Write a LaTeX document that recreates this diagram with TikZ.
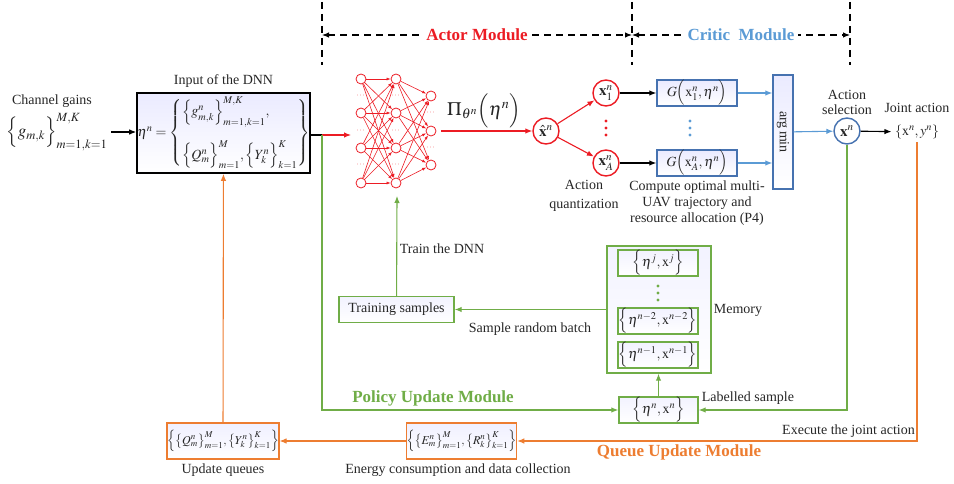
\documentclass[tikz,border=0pt]{standalone}
\usepackage{amsmath}
\usepackage{mathptmx}
\usepackage{fontspec}
\setmainfont{Liberation Serif}
\usepackage{graphicx}
\usepackage{tikz}
\usetikzlibrary{arrows.meta}
\usetikzlibrary{positioning}
\tikzset{>={Latex[length=7pt,width=5.5pt]}}
\definecolor{actred}{RGB}{236,28,36}
\definecolor{critblue}{RGB}{91,155,213}
\definecolor{edgeblue}{RGB}{70,114,176}
\definecolor{polgreen}{RGB}{112,173,71}
\definecolor{queorange}{RGB}{237,125,49}
\definecolor{txt}{RGB}{38,38,38}

\begin{document}
\begin{tikzpicture}[x=1pt, y=-1pt, node distance=2pt,
	every node/.style={text=txt, font=\fontsize{14}{16}\selectfont},
	wire/.style={line width=1.1pt},
	neuron/.style={circle, draw=actred, thick, fill=white, inner sep=0pt, minimum size=10pt},
	ndots/.style={text=actred, font=\fontsize{8}{8}\selectfont, inner sep=0pt},
	vdot/.style={circle, inner sep=0pt, minimum size=3.2pt},
	act/.style={circle, draw=actred, line width=1.4pt, fill=white, inner sep=0pt, minimum size=26pt},
	crit/.style={draw=edgeblue, line width=1.4pt, top color=blue!8!white, bottom color=white, inner sep=0pt},
	pol/.style={draw=polgreen, line width=1.4pt, top color=blue!5!white, bottom color=white, inner sep=0pt},
	que/.style={draw=queorange, line width=1.6pt, top color=blue!6!white, bottom color=white, inner sep=0pt},
	modlbl/.style={font=\bfseries\fontsize{17}{20}\selectfont},
	lbl/.style={align=center, inner sep=1pt}]
	\useasboundingbox (0,0) rectangle (954,484);

	% module headers
	\foreach \n/\x in {ha/322, hb/632, hc/850} {
		\coordinate (\n) at (\x,35);
		\draw[wire, dash pattern=on 7pt off 5pt] (\x,2) -- (\x,65);
	}
	\draw[<->, wire, dash pattern=on 7pt off 5pt] (ha) -- node[fill=white, modlbl, text=actred] (actmod) {Actor Module} (hb);
	\draw[<->, wire, dash pattern=on 7pt off 5pt] (hb) -- node[fill=white, modlbl, text=critblue] (critmod) {Critic\ \ Module} (hc);

	% input
	\node (gainlbl) at (52,101) {Channel gains};
	\node (gain) at (57,132) {\fontsize{17}{19}\selectfont$\Big\{g_{m,k}\Big\}^{M,K}_{m=1,k=1}$};
	\node[draw=black, line width=1.6pt, top color=blue!8!white, bottom color=white, minimum width=173pt, minimum height=80pt, inner sep=0pt] (dnnin) at (223.5,133)
		{\fontsize{14}{16}\selectfont$\eta^n=\left\{\begin{array}{@{}l@{}}\Big\{g^n_{m,k}\Big\}^{M,K}_{m=1,k=1},\\[20pt]
			\Big\{Q^n_m\Big\}^M_{m=1},\Big\{Y^n_k\Big\}^K_{k=1}\end{array}\right\}$};
	\node (dnnlbl) [above=1pt of dnnin] {Input of the DNN};
	\draw[->, wire] (gain) -- (gain -| dnnin.west);

	% actor: DNN
	\foreach \i/\y in {1/79,2/113,3/148,4/183} {
		\node[neuron] (a\i) at (361,\y) {};
		\node[neuron] (b\i) at (396,\y) {};
	}
	\foreach \i/\y in {1/96,2/131,3/165}
		\node[neuron] (c\i) at (431,\y) {};
	\foreach \i in {1,...,4}
		\foreach \j in {1,...,4}
			\draw[-{Latex[length=4pt,width=3pt]}, actred, semithick] (a\i) -- (b\j);
	\foreach \i in {1,...,4}
		\foreach \j in {1,2,3}
			\draw[-{Latex[length=4pt,width=3pt]}, actred, semithick] (b\i) -- (c\j);
	\foreach \i/\y in {1/96,2/131,3/165} {
		\node[ndots] (da\i) at (361,\y) {$\cdots$};
		\node[ndots] (db\i) at (396,\y) {$\cdots$};
	}
	\foreach \i/\y in {1/113,2/148}
		\node[ndots] (dc\i) at (431,\y) {$\cdots$};

	\coordinate (split) at (322,135);
	\coordinate (nnin) at (351,135);
	\coordinate (nnout) at (441,131);
	\coordinate (nnbot) at (397,196);
	\draw[wire] (dnnin.east |- split) -- (split);
	\draw[->, wire, actred] (split) -- (nnin);

	% actor: quantization
	\node (pi) at (484,111) {\fontsize{19}{21}\selectfont$\Pi_{\theta^n}\Big(\eta^n\Big)$};
	\node[act] (xhat) at (546,131) {\fontsize{15}{17}\selectfont$\hat{\mathbf{x}}^n$};
	\node[act] (x1) at (606,93) {\fontsize{15}{17}\selectfont$\mathbf{x}^n_1$};
	\node[act] (xA) at (606,163) {\fontsize{15}{17}\selectfont$\mathbf{x}^n_A$};
	\foreach \k/\y in {1/121,2/128,3/135}
		\node[vdot, fill=actred] (xdot\k) at (606,\y) {};
	\node[lbl, font=\fontsize{14}{19}\selectfont] (quant) at (584,196) {Action\\quantization};
	\draw[->, wire, actred] (nnout) -- (xhat);
	\draw[->, wire, actred] (xhat) -- (x1);
	\draw[->, wire, actred] (xhat) -- (xA);

	% critic
	\node[crit, minimum width=80pt, minimum height=26pt] (g1) at (697,93) {$G\Big(\mathrm{x}^n_1,\eta^n\Big)$};
	\node[crit, minimum width=80pt, minimum height=26pt] (gA) at (697,163) {$G\Big(\mathrm{x}^n_A,\eta^n\Big)$};
	\foreach \k/\y in {1/121,2/128,3/135}
		\node[vdot, fill=critblue] (gdot\k) at (690,\y) {};
	\node[crit, minimum width=20pt, minimum height=114pt] (amin) at (783,132) {\rotatebox{-90}{arg\,min}};
	\node[lbl] (compute) at (697,203) {Compute optimal multi-\\UAV trajectory and\\resource allocation (P4)};
	\node[circle, draw=edgeblue, line width=1.4pt, fill=white, inner sep=0pt, minimum size=26pt] (xsel) at (847,131) {\fontsize{15}{17}\selectfont$\mathbf{x}^n$};
	\node[lbl, font=\fontsize{14}{15}\selectfont] (sellbl) [above=1pt of xsel] {Action\\selection};
	\node (joint) at (917,132) {$\left\{\mathrm{x}^n,y^n\right\}$};
	\node (jointlbl) at (917,108) {Joint action};
	\draw[->, wire] (x1) -- (g1);
	\draw[->, wire] (xA) -- (gA);
	\draw[->, wire, critblue] (g1) -- (g1 -| amin.west);
	\draw[->, wire, critblue] (gA) -- (gA -| amin.west);
	\draw[->, wire, critblue] (amin) -- (xsel);
	\draw[->, wire] (xsel) -- (joint);

	% policy update
	\node[pol, minimum width=79pt, minimum height=26pt] (sample) at (658.5,410) {$\Big\{\eta^n,\mathrm{x}^n\Big\}$};
	\node[pol, minimum width=104pt, minimum height=127pt] (mem) at (659,309.5) {};
	\node[pol, minimum width=80pt, minimum height=26pt] (mj) at (658,263) {$\Big\{\eta^j,\mathrm{x}^j\Big\}$};
	\foreach \k/\y in {1/286,2/293,3/300}
		\node[vdot, fill=polgreen] (mdot\k) at (658,\y) {};
	\node[pol, minimum width=80pt, minimum height=26pt] (m2) at (658,321) {$\Big\{\eta^{n-2},\mathrm{x}^{n-2}\Big\}$};
	\node[pol, minimum width=80pt, minimum height=26pt] (m1) at (658,355) {$\Big\{\eta^{n-1},\mathrm{x}^{n-1}\Big\}$};
	\node (memlbl) at (738,310) {Memory};
	\node[pol, minimum width=115pt, minimum height=26pt] (train) at (396.5,309.5) {Training samples};
	\node (batch) at (530,329) {Sample random batch};
	\node (trainlbl) at (442,249) {Train the DNN};
	\node (labelled) at (748,398) {Labelled sample};
	\node[modlbl, text=polgreen] (polmod) at (433,398) {Policy Update Module};
	\draw[->, wire, polgreen] (split) |- (sample);
	\draw[->, wire, polgreen] (xsel) |- (sample);
	\draw[->, wire, polgreen] (sample) -- (sample |- mem.south);
	\draw[->, wire, polgreen] (mem) -- (train);
	\draw[->, wire, polgreen] (train) -- (nnbot);

	% queue update
	\node[que, minimum width=109pt, minimum height=36pt] (energy) at (461.5,441)
		{\fontsize{12}{14}\selectfont$\Big\{\big\{E^n_m\big\}^M_{m=1},\big\{R^n_k\big\}^K_{k=1}\Big\}$};
	\node[que, minimum width=108pt, minimum height=36pt] (queue) at (223,441)
		{\fontsize{12}{14}\selectfont$\Big\{\big\{Q^n_m\big\}^M_{m=1},\big\{Y^n_k\big\}^K_{k=1}\Big\}$};
	\node (energylbl) at (458,470) {Energy consumption and data collection};
	\node (queuelbl) at (223,470) {Update queues};
	\node[anchor=south east, inner sep=1pt] (execute) at (916,439) {Execute the joint action};
	\node[modlbl, text=queorange] (quemod) at (679,452) {Queue Update Module};
	\draw[->, wire, queorange] (joint) |- (energy);
	\draw[->, wire, queorange] (energy) -- (queue);
	\draw[->, wire, queorange] (queue) -- (dnnin);
\end{tikzpicture}
\end{document}
